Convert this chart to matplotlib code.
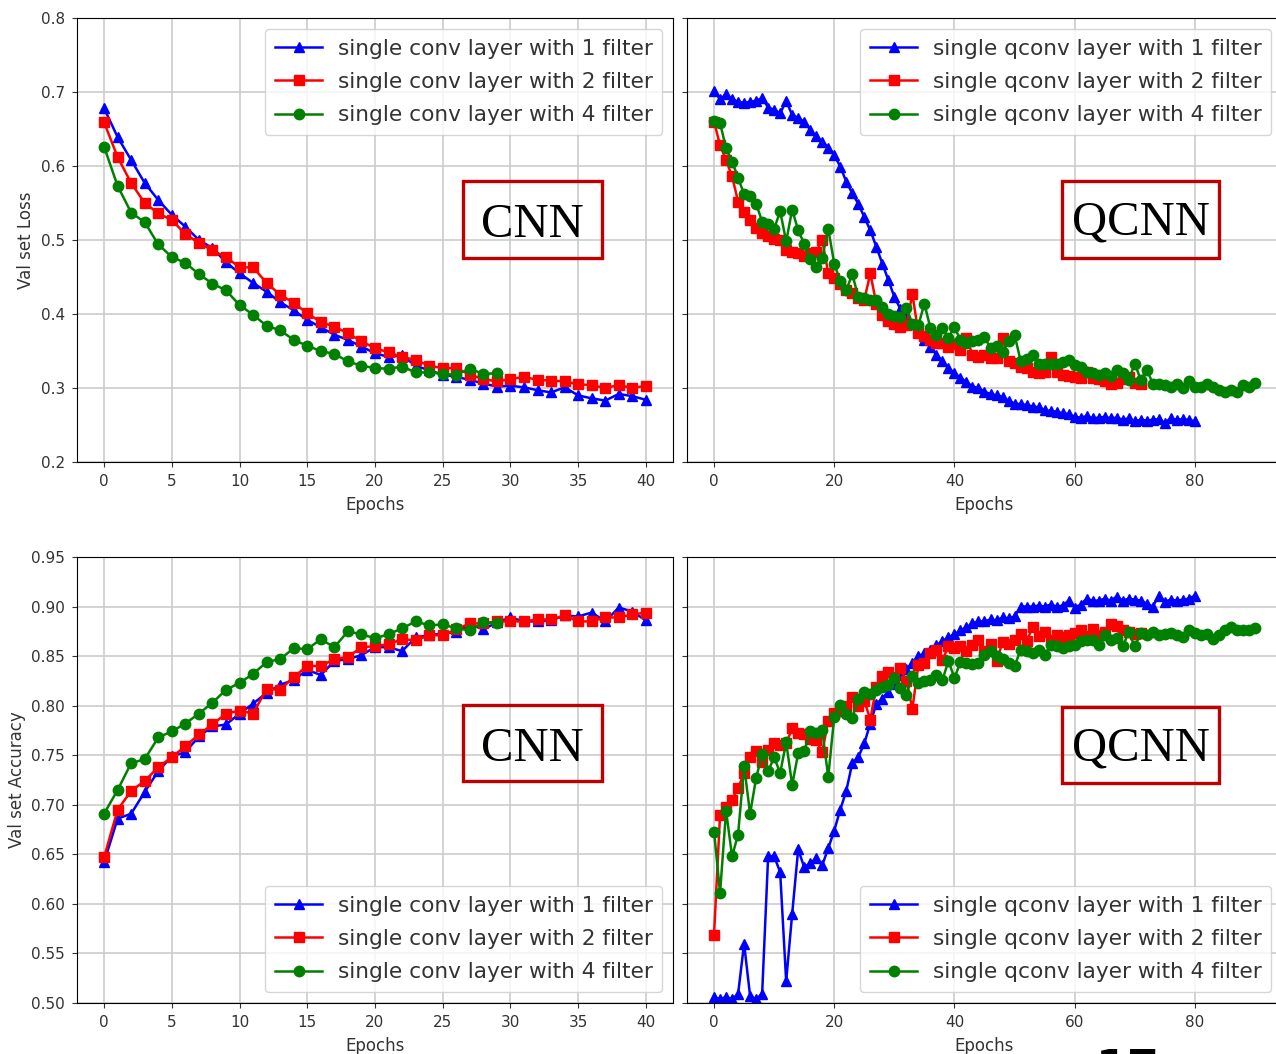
import matplotlib
matplotlib.use("Agg")
import matplotlib.pyplot as plt
from matplotlib.patches import Rectangle

# ---- data ----
cnn_loss_1 = [0.678, 0.639, 0.608, 0.577, 0.554, 0.534, 0.518, 0.500, 0.489, 0.470,
              0.455, 0.442, 0.430, 0.416, 0.405, 0.392, 0.382, 0.372, 0.365, 0.356,
              0.347, 0.342, 0.344, 0.330, 0.324, 0.318, 0.315, 0.311, 0.306, 0.302,
              0.303, 0.301, 0.297, 0.294, 0.301, 0.290, 0.286, 0.283, 0.292, 0.289, 0.284]
cnn_loss_2 = [0.659, 0.612, 0.577, 0.550, 0.536, 0.527, 0.508, 0.496, 0.486, 0.477,
              0.463, 0.463, 0.442, 0.426, 0.415, 0.401, 0.389, 0.383, 0.374, 0.363,
              0.354, 0.348, 0.342, 0.338, 0.330, 0.327, 0.327, 0.318, 0.312, 0.309,
              0.312, 0.315, 0.311, 0.310, 0.309, 0.305, 0.304, 0.300, 0.304, 0.300, 0.303]
cnn_loss_4 = [0.626, 0.573, 0.537, 0.524, 0.494, 0.477, 0.469, 0.454, 0.441, 0.432,
              0.412, 0.399, 0.384, 0.378, 0.365, 0.357, 0.350, 0.346, 0.336, 0.330,
              0.327, 0.326, 0.329, 0.321, 0.321, 0.319, 0.318, 0.326, 0.319, 0.320]

cnn_acc_1 = [0.642, 0.686, 0.691, 0.713, 0.734, 0.749, 0.753, 0.769, 0.779, 0.781,
             0.792, 0.802, 0.813, 0.821, 0.826, 0.836, 0.831, 0.845, 0.847, 0.851,
             0.859, 0.859, 0.855, 0.869, 0.871, 0.873, 0.874, 0.882, 0.877, 0.884,
             0.889, 0.885, 0.885, 0.886, 0.891, 0.890, 0.894, 0.885, 0.899, 0.895, 0.886]
cnn_acc_2 = [0.647, 0.695, 0.714, 0.724, 0.738, 0.748, 0.759, 0.771, 0.781, 0.792,
             0.795, 0.792, 0.817, 0.816, 0.829, 0.840, 0.840, 0.847, 0.849, 0.859,
             0.860, 0.862, 0.867, 0.866, 0.871, 0.871, 0.877, 0.883, 0.883, 0.885,
             0.885, 0.885, 0.887, 0.887, 0.891, 0.885, 0.885, 0.889, 0.889, 0.892, 0.894]
cnn_acc_4 = [0.691, 0.715, 0.742, 0.746, 0.768, 0.774, 0.782, 0.792, 0.803, 0.816,
             0.823, 0.832, 0.844, 0.847, 0.858, 0.857, 0.867, 0.859, 0.875, 0.872,
             0.868, 0.872, 0.878, 0.885, 0.881, 0.882, 0.878, 0.876, 0.884, 0.883]

qcnn_loss_1 = [0.702, 0.690, 0.697, 0.690, 0.687, 0.685, 0.687, 0.688, 0.692, 0.679,
               0.676, 0.671, 0.688, 0.669, 0.665, 0.660, 0.649, 0.640, 0.633, 0.625,
               0.615, 0.599, 0.579, 0.563, 0.549, 0.531, 0.513, 0.491, 0.468, 0.446,
               0.423, 0.407, 0.396, 0.387, 0.376, 0.365, 0.355, 0.345, 0.336, 0.327,
               0.320, 0.314, 0.308, 0.302, 0.300, 0.295, 0.292, 0.290, 0.288, 0.283,
               0.279, 0.278, 0.277, 0.275, 0.274, 0.270, 0.269, 0.268, 0.266, 0.265,
               0.261, 0.260, 0.262, 0.259, 0.260, 0.261, 0.259, 0.260, 0.257, 0.259,
               0.255, 0.257, 0.256, 0.257, 0.258, 0.253, 0.259, 0.257, 0.258, 0.257, 0.255]
qcnn_loss_2 = [0.660, 0.628, 0.608, 0.586, 0.552, 0.538, 0.527, 0.516, 0.509, 0.505,
               0.502, 0.500, 0.486, 0.484, 0.482, 0.479, 0.482, 0.484, 0.500, 0.455,
               0.448, 0.441, 0.432, 0.428, 0.421, 0.419, 0.455, 0.414, 0.399, 0.390,
               0.387, 0.383, 0.385, 0.427, 0.374, 0.370, 0.365, 0.361, 0.361, 0.356,
               0.359, 0.352, 0.368, 0.345, 0.342, 0.345, 0.340, 0.340, 0.368, 0.336,
               0.334, 0.329, 0.327, 0.322, 0.320, 0.322, 0.342, 0.322, 0.318, 0.316,
               0.315, 0.314, 0.321, 0.313, 0.312, 0.309, 0.305, 0.307, 0.312, 0.315,
               0.307, 0.305]
qcnn_loss_4 = [0.661, 0.658, 0.624, 0.606, 0.584, 0.562, 0.559, 0.549, 0.525, 0.522,
               0.515, 0.539, 0.498, 0.541, 0.513, 0.495, 0.474, 0.464, 0.476, 0.515,
               0.468, 0.444, 0.432, 0.454, 0.423, 0.422, 0.419, 0.419, 0.410, 0.400,
               0.397, 0.396, 0.408, 0.387, 0.385, 0.414, 0.381, 0.372, 0.381, 0.368,
               0.382, 0.365, 0.361, 0.363, 0.365, 0.369, 0.354, 0.357, 0.349, 0.363,
               0.372, 0.337, 0.339, 0.344, 0.332, 0.332, 0.332, 0.332, 0.335, 0.338,
               0.331, 0.328, 0.321, 0.320, 0.318, 0.320, 0.316, 0.325, 0.320, 0.311,
               0.333, 0.311, 0.325, 0.306, 0.306, 0.304, 0.302, 0.306, 0.300, 0.309,
               0.302, 0.302, 0.306, 0.302, 0.297, 0.295, 0.297, 0.295, 0.304, 0.302, 0.307]

qcnn_acc_1 = [0.506, 0.504, 0.506, 0.504, 0.509, 0.560, 0.507, 0.504, 0.509, 0.648,
              0.648, 0.632, 0.522, 0.590, 0.655, 0.637, 0.641, 0.646, 0.639, 0.656,
              0.674, 0.695, 0.714, 0.742, 0.748, 0.762, 0.782, 0.802, 0.807, 0.814,
              0.822, 0.831, 0.837, 0.843, 0.850, 0.853, 0.856, 0.861, 0.865, 0.869,
              0.872, 0.876, 0.879, 0.883, 0.885, 0.885, 0.887, 0.886, 0.889, 0.888,
              0.890, 0.900, 0.900, 0.900, 0.901, 0.900, 0.902, 0.900, 0.901, 0.906,
              0.899, 0.902, 0.908, 0.906, 0.906, 0.908, 0.906, 0.910, 0.906, 0.908,
              0.907, 0.906, 0.903, 0.900, 0.911, 0.905, 0.907, 0.906, 0.907, 0.908, 0.911]
qcnn_acc_2 = [0.569, 0.690, 0.698, 0.705, 0.717, 0.732, 0.748, 0.754, 0.743, 0.755,
              0.762, 0.760, 0.762, 0.777, 0.772, 0.771, 0.766, 0.765, 0.753, 0.785,
              0.793, 0.795, 0.800, 0.809, 0.800, 0.805, 0.786, 0.819, 0.830, 0.834,
              0.829, 0.838, 0.825, 0.797, 0.841, 0.843, 0.853, 0.856, 0.846, 0.860,
              0.858, 0.860, 0.855, 0.861, 0.866, 0.855, 0.862, 0.845, 0.864, 0.862,
              0.866, 0.872, 0.865, 0.879, 0.870, 0.874, 0.866, 0.871, 0.869, 0.871,
              0.873, 0.876, 0.870, 0.877, 0.871, 0.874, 0.882, 0.880, 0.876, 0.874,
              0.872, 0.873]
qcnn_acc_4 = [0.673, 0.611, 0.694, 0.648, 0.670, 0.739, 0.691, 0.727, 0.751, 0.734,
              0.748, 0.732, 0.763, 0.720, 0.752, 0.754, 0.774, 0.772, 0.775, 0.728,
              0.789, 0.801, 0.792, 0.788, 0.807, 0.814, 0.812, 0.816, 0.819, 0.821,
              0.828, 0.818, 0.811, 0.830, 0.823, 0.825, 0.826, 0.831, 0.826, 0.845,
              0.828, 0.844, 0.843, 0.842, 0.843, 0.851, 0.855, 0.850, 0.847, 0.843,
              0.840, 0.856, 0.855, 0.853, 0.856, 0.851, 0.861, 0.860, 0.858, 0.860,
              0.861, 0.865, 0.866, 0.866, 0.861, 0.871, 0.866, 0.868, 0.860, 0.874,
              0.860, 0.873, 0.871, 0.874, 0.871, 0.872, 0.873, 0.871, 0.869, 0.876,
              0.873, 0.871, 0.872, 0.867, 0.871, 0.876, 0.879, 0.876, 0.876, 0.876, 0.878]

cnn_labels = ["single conv layer with 1 filter",
              "single conv layer with 2 filter",
              "single conv layer with 4 filter"]
qcnn_labels = ["single qconv layer with 1 filter",
               "single qconv layer with 2 filter",
               "single qconv layer with 4 filter"]

styles = [("blue", "^"), ("red", "s"), ("green", "o")]

plt.rcParams["text.color"] = "#333333"
plt.rcParams["axes.labelcolor"] = "#333333"
plt.rcParams["xtick.color"] = "#333333"
plt.rcParams["ytick.color"] = "#333333"

W, H = 1276, 1054
fig = plt.figure(figsize=(W / 100, H / 100), dpi=100)

def px_axes(x0, y0, x1, y1, **kw):
    return fig.add_axes([x0 / W, 1 - y1 / H, (x1 - x0) / W, (y1 - y0) / H], **kw)

ax_tl = px_axes(77, 18, 673, 462)
ax_tr = px_axes(687, 18, 1282, 462, sharey=ax_tl)
ax_bl = px_axes(77, 557, 673, 1003)
ax_br = px_axes(687, 557, 1282, 1003, sharey=ax_bl)

panels = [
    (ax_tl, [cnn_loss_1, cnn_loss_2, cnn_loss_4], cnn_labels, "upper right"),
    (ax_tr, [qcnn_loss_1, qcnn_loss_2, qcnn_loss_4], qcnn_labels, "upper right"),
    (ax_bl, [cnn_acc_1, cnn_acc_2, cnn_acc_4], cnn_labels, "lower right"),
    (ax_br, [qcnn_acc_1, qcnn_acc_2, qcnn_acc_4], qcnn_labels, "lower right"),
]

for ax, series, labels, loc in panels:
    for vals, lab, (col, mk) in zip(series, labels, styles):
        ax.plot(range(len(vals)), vals, color=col, marker=mk, markersize=7.5,
                linewidth=1.8, label=lab)
    ax.grid(True, color="#cccccc", linewidth=1.2)
    ax.set_axisbelow(True)
    ax.set_xlabel("Epochs", fontsize=12, labelpad=5)
    ax.tick_params(labelsize=11, pad=5)
    ax.legend(loc=loc, fontsize=15.6, labelspacing=0.62, handlelength=2.2,
              handletextpad=0.7, borderpad=0.45)

for ax in (ax_tl, ax_bl):
    ax.set_xticks(range(0, 41, 5))
for ax in (ax_tr, ax_br):
    ax.set_xticks(range(0, 81, 20))
    ax.tick_params(labelleft=False)

ax_tl.set_ylim(0.2, 0.8)
ax_tl.set_yticks([0.2, 0.3, 0.4, 0.5, 0.6, 0.7, 0.8])
ax_tl.set_ylabel("Val set Loss", fontsize=12)
ax_bl.set_ylim(0.5, 0.95)
ax_bl.set_yticks([0.50, 0.55, 0.60, 0.65, 0.70, 0.75, 0.80, 0.85, 0.90, 0.95])
ax_bl.set_yticklabels([f"{v:.2f}" for v in ax_bl.get_yticks()])
ax_bl.set_ylabel("Val set Accuracy", fontsize=12)

# red framed CNN / QCNN tags (pixel boxes on the figure)
tags = [("CNN", 463, 181, 602, 258, 237),
        ("QCNN", 1062, 181, 1219, 258, 235),
        ("CNN", 463, 705, 602, 781, 761),
        ("QCNN", 1062, 707, 1219, 783, 761)]
for txt, x0, y0, x1, y1, base in tags:
    fig.patches.append(Rectangle((x0 / W, 1 - y1 / H), (x1 - x0) / W, (y1 - y0) / H,
                                 transform=fig.transFigure, fill=False,
                                 edgecolor="#c00000", linewidth=2.4, zorder=10))
    fig.text((x0 + x1) / 2 / W, 1 - base / H, txt, ha="center", va="baseline",
             fontsize=35, family="Liberation Serif", color="black", zorder=11)

# slide number peeking in at the bottom edge (cut off as in the source slide)
fig.text(1128 / W, 1 - 1083 / H, "17", ha="center", va="baseline",
         fontsize=33, fontweight="bold", color="black")

fig.savefig("out.png", dpi=100)
plt.close("all")
